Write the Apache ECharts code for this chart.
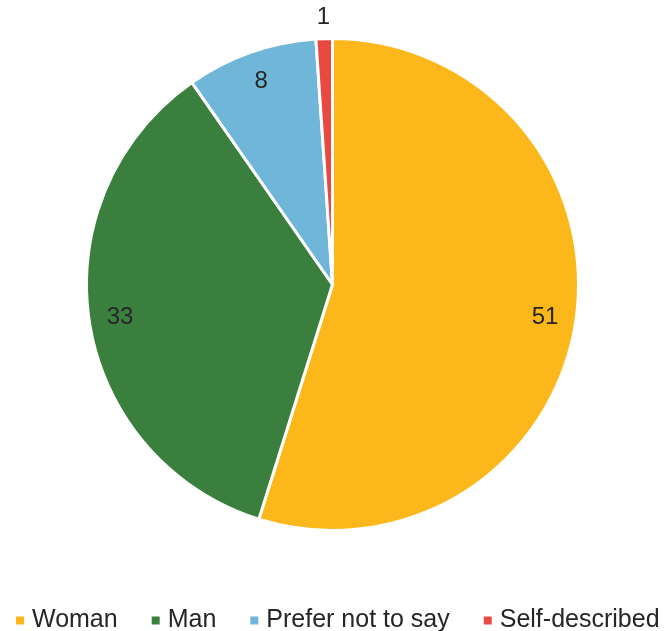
<!DOCTYPE html>
<html>
<head>
<meta charset="utf-8">
<script src="https://cdn.jsdelivr.net/npm/echarts@6/dist/echarts.min.js"></script>
<style>
  html, body { margin: 0; padding: 0; background: #ffffff; }
  #chart { width: 665px; height: 631px; }
</style>
</head>
<body>
<div id="chart"></div>
<script>
// Gender breakdown of respondents
const categories = ['Woman', 'Man', 'Prefer not to say', 'Self-described'];
const counts = [51, 33, 8, 1];
const colors = ['#FCB71B', '#3B7F3F', '#70B6D9', '#E84A42'];

// Small slices get their label placed just outside the rim
const outsideLabel = ['Self-described'];

const FONT = '"Liberation Sans", Arial, sans-serif';
const center = [332.5, 284.5];

const chart = echarts.init(document.getElementById('chart'), null, { renderer: 'canvas' });

const pieData = categories.map((name, i) => ({ name, value: counts[i] }));

const labelStyle = {
  color: '#262626',
  fontSize: 24,
  fontFamily: FONT,
  formatter: '{c}'
};

chart.setOption({
  animation: false,
  color: colors,
  legend: {
    data: categories,
    left: 14,
    top: 607,
    padding: 0,
    icon: 'rect',
    itemWidth: 10,
    itemHeight: 10,
    itemGap: 32,
    selectedMode: false,
    textStyle: {
      color: '#262626',
      fontSize: 25,
      fontFamily: FONT,
      lineHeight: 25,
      padding: [2, 0, 0, 2]
    }
  },
  series: [
    {
      // The visible pie
      type: 'pie',
      center: center,
      radius: [0, 246],
      startAngle: 90,
      clockwise: true,
      silent: true,
      data: pieData,
      itemStyle: { borderColor: '#ffffff', borderWidth: 3 },
      label: { show: false },
      labelLine: { show: false },
      emphasis: { disabled: true }
    },
    {
      // Value labels near the rim, inside the slices
      type: 'pie',
      center: center,
      radius: [180, 244],
      startAngle: 90,
      silent: true,
      data: pieData.map(d => ({
        name: d.name,
        value: d.value,
        label: { show: outsideLabel.indexOf(d.name) < 0 }
      })),
      itemStyle: { color: 'transparent', borderWidth: 0 },
      label: Object.assign({ position: 'inside' }, labelStyle),
      labelLine: { show: false },
      emphasis: { disabled: true }
    },
    {
      // Value labels just beyond the rim for very thin slices
      type: 'pie',
      center: center,
      radius: [240, 288],
      startAngle: 90,
      silent: true,
      data: pieData.map(d => ({
        name: d.name,
        value: d.value,
        label: { show: outsideLabel.indexOf(d.name) >= 0 }
      })),
      itemStyle: { color: 'transparent', borderWidth: 0 },
      label: Object.assign({ position: 'inside' }, labelStyle),
      labelLine: { show: false },
      emphasis: { disabled: true }
    }
  ]
});
</script>
</body>
</html>
